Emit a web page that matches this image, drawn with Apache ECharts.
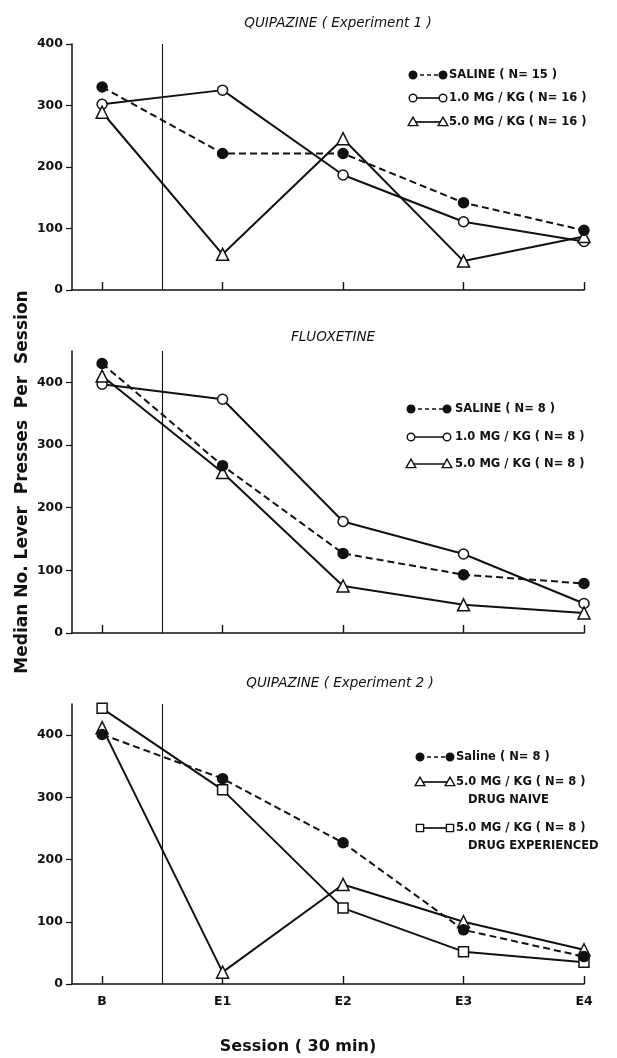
<!DOCTYPE html>
<html><head><meta charset="utf-8">
<script src="https://cdn.jsdelivr.net/npm/echarts@6/dist/echarts.min.js"></script>
<style>html,body{margin:0;padding:0;background:#fff}#c{width:617px;height:1058px}</style>
</head><body><div id="c"></div>
<script>
const sessions = ['B', 'E1', 'E2', 'E3', 'E4'];
const yTicks = [0, 100, 200, 300, 400];
// Panel 1: Quipazine (Experiment 1)
const p1Saline = [330, 222, 222, 142, 97];
const p1Low = [302, 325, 187, 111, 79];
const p1High = [289, 58, 246, 47, 87];
// Panel 2: Fluoxetine
const p2Saline = [430, 267, 127, 93, 79];
const p2Low = [397, 373, 178, 126, 47];
const p2High = [410, 256, 75, 45, 32];
// Panel 3: Quipazine (Experiment 2)
const p3Saline = [401, 330, 227, 87, 44];
const p3Naive = [412, 19, 160, 100, 55];
const p3Exp = [443, 312, 122, 52, 35];

const titles = ['QUIPAZINE ( Experiment 1 )', 'FLUOXETINE', 'QUIPAZINE ( Experiment 2 )'];
const legend1 = ['SALINE ( N= 15 )', '1.0 MG / KG ( N= 16 )', '5.0 MG / KG ( N= 16 )'];
const legend2 = ['SALINE ( N= 8 )', '1.0 MG / KG ( N= 8 )', '5.0 MG / KG ( N= 8 )'];
const legend3 = ['Saline ( N= 8 )', '5.0 MG / KG ( N= 8 )', 'DRUG NAIVE', '5.0 MG / KG ( N= 8 )', 'DRUG EXPERIENCED'];

const FONT = 'DejaVu Sans';
const grids = [
  {left: 72, right: 33, top: 44, height: 246},
  {left: 72, right: 33, top: 351, height: 282},
  {left: 72, right: 33, top: 704, height: 280}
];
const yMax = [400, 450, 450];

function pts(arr) { return arr.map((v, i) => [i, v]); }

const xAxes = grids.map((g, i) => ({
  type: 'value', gridIndex: i, min: -0.25, max: 4,
  axisLine: {onZero: false, lineStyle: {color: '#111', width: 1.5}},
  axisTick: {show: true, inside: true, length: 8, customValues: [0, 1, 2, 3, 4], lineStyle: {color: '#111', width: 1.4}},
  axisLabel: {show: i === 2, customValues: [0, 1, 2, 3, 4], formatter: v => sessions[Math.round(v)] || '',
    fontFamily: FONT, fontWeight: 'bold', fontSize: 12.5, color: '#111', margin: 11},
  splitLine: {show: false}
}));
const yAxes = grids.map((g, i) => ({
  type: 'value', gridIndex: i, min: 0, max: yMax[i],
  axisLine: {show: true, onZero: false, lineStyle: {color: '#111', width: 1.5}},
  axisTick: {show: true, length: 6, customValues: yTicks, lineStyle: {color: '#111', width: 1.2}},
  axisLabel: {customValues: yTicks, fontFamily: FONT, fontWeight: 'bold', fontSize: 12.5, color: '#111', margin: 9},
  splitLine: {show: false}
}));

const LW = 2;
function ser(idx, data, symbol, filled, dashed, withMark) {
  const s = {
    type: 'line', xAxisIndex: idx, yAxisIndex: idx, data: pts(data),
    symbol: symbol, symbolSize: symbol === 'triangle' ? 12 : 10,
    showSymbol: true, animation: false, z: filled ? 4 : 3,
    lineStyle: {color: '#111', width: LW, type: dashed ? [7, 4] : 'solid'},
    itemStyle: {color: filled ? '#111' : '#fff', borderColor: '#111', borderWidth: 1.5}
  };
  if (withMark) {
    s.markLine = {silent: true, symbol: 'none', label: {show: false},
      lineStyle: {color: '#111', width: 1.1, type: 'solid'}, data: [{xAxis: 0.5}]};
  }
  return s;
}

const series = [
  ser(0, p1Saline, 'circle', true, true, true),
  ser(0, p1Low, 'circle', false, false),
  ser(0, p1High, 'triangle', false, false),
  ser(1, p2Saline, 'circle', true, true, true),
  ser(1, p2Low, 'circle', false, false),
  ser(1, p2High, 'triangle', false, false),
  ser(2, p3Saline, 'circle', true, true, true),
  ser(2, p3Naive, 'triangle', false, false),
  ser(2, p3Exp, 'rect', false, false)
];

// legend graphics
function marker(kind, x, y) {
  const st = {stroke: '#111', lineWidth: 1.4, fill: kind === 'dot' ? '#111' : '#fff'};
  if (kind === 'dot' || kind === 'circle') return {type: 'circle', shape: {cx: x, cy: y, r: 3.8}, style: st, z: 10};
  if (kind === 'tri') return {type: 'polygon', shape: {points: [[x, y - 4.8], [x - 4.8, y + 3.6], [x + 4.8, y + 3.6]]}, style: st, z: 10};
  return {type: 'rect', shape: {x: x - 3.6, y: y - 3.6, width: 7.2, height: 7.2}, style: st, z: 10};
}
function legRow(kind, dashed, x0, x1, y, text, tx) {
  return [
    {type: 'line', shape: {x1: x0, y1: y, x2: x1, y2: y}, style: {stroke: '#111', lineWidth: 1.7, lineDash: dashed ? [4, 3] : null}, z: 9},
    marker(kind, x0, y), marker(kind, x1, y),
    {type: 'text', x: tx, y: y, style: {text: text, font: 'bold 11.5px "' + FONT + '"', fill: '#111', textVerticalAlign: 'middle'}, z: 10}
  ];
}
function subText(text, x, y) {
  return {type: 'text', x: x, y: y, style: {text: text, font: 'bold 11.5px "' + FONT + '"', fill: '#111', textVerticalAlign: 'middle'}, z: 10};
}
let g = [];
g = g.concat(legRow('dot', true, 413, 443, 75, legend1[0], 449));
g = g.concat(legRow('circle', false, 413, 443, 98, legend1[1], 449));
g = g.concat(legRow('tri', false, 413, 443, 122, legend1[2], 449));
g = g.concat(legRow('dot', true, 411, 447, 409, legend2[0], 455));
g = g.concat(legRow('circle', false, 411, 447, 437, legend2[1], 455));
g = g.concat(legRow('tri', false, 411, 447, 464, legend2[2], 455));
g = g.concat(legRow('dot', true, 420, 450, 757, legend3[0], 456));
g = g.concat(legRow('tri', false, 420, 450, 782, legend3[1], 456));
g.push(subText(legend3[2], 468, 800));
g = g.concat(legRow('rect', false, 420, 450, 828, legend3[3], 456));
g.push(subText(legend3[4], 468, 846));

const titleY = [23, 337, 683];
const titleX = [338, 333, 340];
titles.forEach((t, i) => g.push({type: 'text', x: titleX[i], y: titleY[i],
  style: {text: t, font: 'italic 13.5px "' + FONT + '"', fill: '#111', textAlign: 'center', textVerticalAlign: 'middle'}}));
g.push({type: 'text', x: 23, y: 482, rotation: Math.PI / 2,
  style: {text: 'Median No. Lever  Presses  Per  Session', font: 'bold 17px "' + FONT + '"', fill: '#111', textAlign: 'center', textVerticalAlign: 'middle'}});
g.push({type: 'text', x: 298, y: 1047,
  style: {text: 'Session ( 30 min)', font: 'bold 16px "' + FONT + '"', fill: '#111', textAlign: 'center', textVerticalAlign: 'middle'}});

const chart = echarts.init(document.getElementById('c'), null, {renderer: 'canvas'});
chart.setOption({
  backgroundColor: '#fff', animation: false,
  grid: grids, xAxis: xAxes, yAxis: yAxes, series: series, graphic: g
});
</script></body></html>
